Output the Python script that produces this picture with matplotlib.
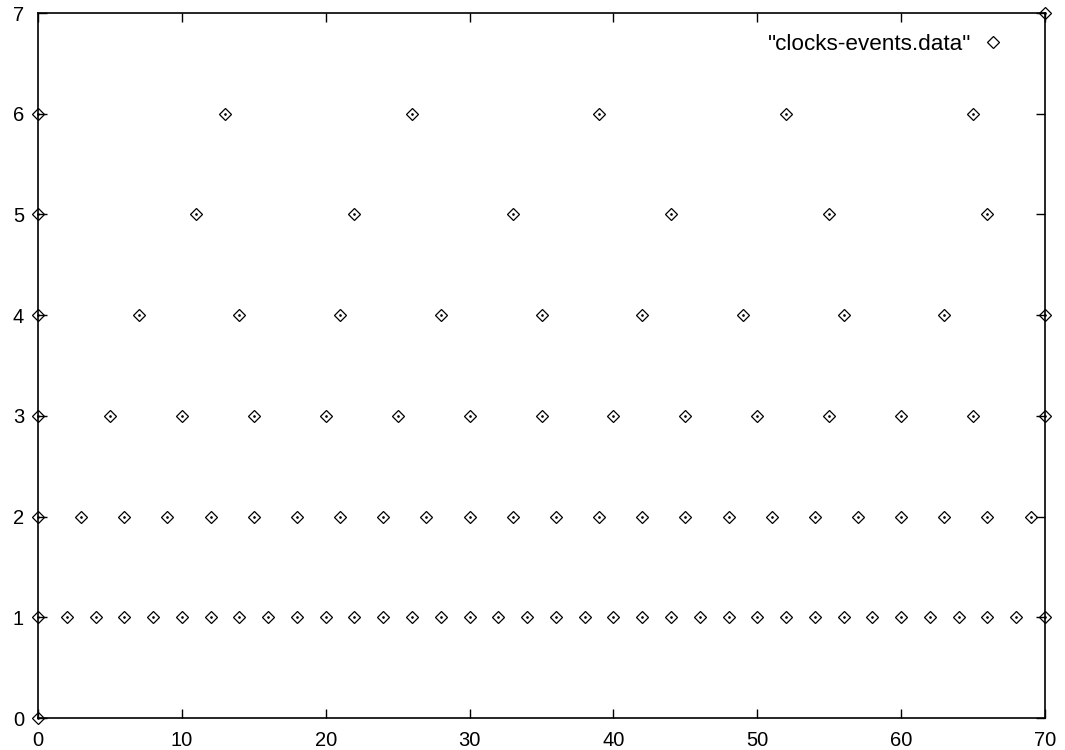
import matplotlib
matplotlib.use("Agg")
import matplotlib.pyplot as plt

plt.rcParams['font.family'] = ['Liberation Sans', 'DejaVu Sans']

# data: (x, y) event points grouped by level
x_level0 = [0]
x_level1 = [0, 2, 4, 6, 8, 10, 12, 14, 16, 18, 20, 22, 24, 26, 28, 30, 32, 34,
            36, 38, 40, 42, 44, 46, 48, 50, 52, 54, 56, 58, 60, 62, 64, 66, 68, 70]
x_level2 = [0, 3, 6, 9, 12, 15, 18, 21, 24, 27, 30, 33, 36, 39, 42, 45, 48, 51,
            54, 57, 60, 63, 66, 69]
x_level3 = [0, 5, 10, 15, 20, 25, 30, 35, 40, 45, 50, 55, 60, 65, 70]
x_level4 = [0, 7, 14, 21, 28, 35, 42, 49, 56, 63, 70]
x_level5 = [0, 11, 22, 33, 44, 55, 66]
x_level6 = [0, 13, 26, 39, 52, 65]
x_level7 = [70]
levels = [0, 1, 2, 3, 4, 5, 6, 7]
groups = [x_level0, x_level1, x_level2, x_level3, x_level4, x_level5, x_level6, x_level7]

xs, ys = [], []
for lvl, g in zip(levels, groups):
    xs.extend(g)
    ys.extend([lvl] * len(g))

x_ticks = [0, 10, 20, 30, 40, 50, 60, 70]
y_ticks = [0, 1, 2, 3, 4, 5, 6, 7]
label = '"clocks-events.data"'

fig = plt.figure(figsize=(10.65, 7.5), dpi=100)
ax = fig.add_axes([38/1065, 1 - 718/750, (1045-38)/1065, (718-13)/750])

ax.plot(xs, ys, linestyle='none', marker='D', markersize=6.6, markerfacecolor='none',
        markeredgecolor='black', markeredgewidth=0.9, label=label, clip_on=False, zorder=3)
ax.plot(xs, ys, linestyle='none', marker='o', markersize=0.9, color='black', clip_on=False, zorder=3)

ax.set_xlim(0, 70)
ax.set_ylim(0, 7)
ax.set_xticks(x_ticks)
ax.set_yticks(y_ticks)
ax.tick_params(direction='in', length=6.5, width=1, top=True, right=True,
               labelsize=14.5)
ax.tick_params(axis='x', pad=9.5)
ax.tick_params(axis='y', pad=10)
for s in ax.spines.values():
    s.set_linewidth(1.2)

ax.legend(loc='center right', bbox_to_anchor=(0.980, 0.956), frameon=False, markerfirst=False,
          fontsize=16.2, handlelength=1.2, handletextpad=0.4, borderpad=0.3)

fig.savefig('out.png', dpi=100)
